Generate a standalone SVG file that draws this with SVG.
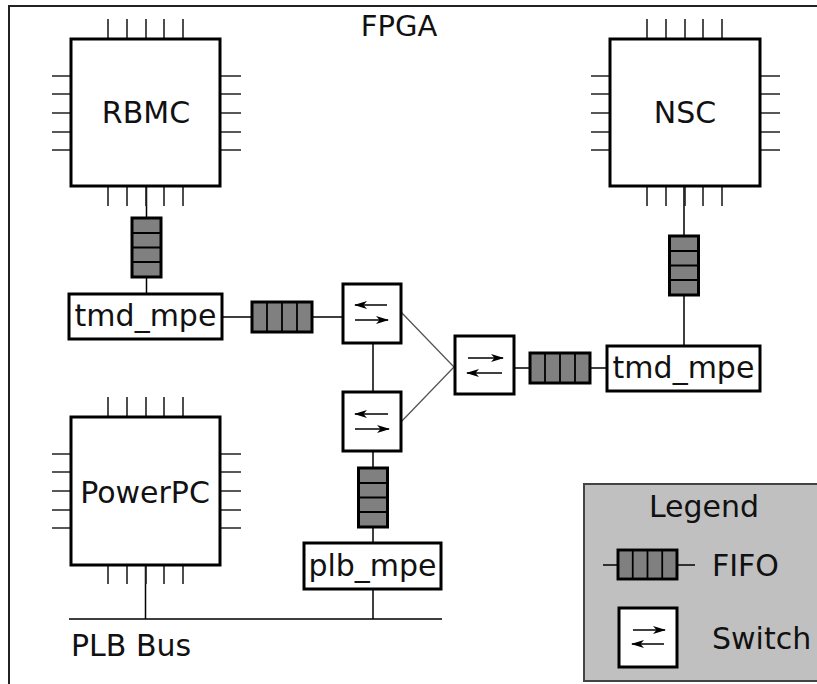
<svg xmlns="http://www.w3.org/2000/svg" xmlns:xlink="http://www.w3.org/1999/xlink" width="817" height="684" viewBox="0 0 817 684">
<style>
text{font-family:"DejaVu Sans","Liberation Sans",sans-serif;font-size:30px;fill:#111}
.box{fill:#fff;stroke:#000;stroke-width:3}
.pin{stroke:#222;stroke-width:1.6;fill:none}
.fifo{fill:#808080;stroke:#000;stroke-width:3}
.div{stroke:#000;stroke-width:1.8}
.ln{stroke:#000;stroke-width:1.5;fill:none}
.diag{stroke:#555;stroke-width:1.3;fill:none}
.arr{stroke:#000;stroke-width:1.5;fill:none;marker-end:url(#ah)}
.frame{stroke:#222;stroke-width:2;fill:none}
</style>
<defs>
<marker id="ah" markerUnits="userSpaceOnUse" markerWidth="14" markerHeight="10" refX="12" refY="5" orient="auto">
<path d="M0,1 L13,5 L0,9 L3.5,5 z" fill="#000"/>
</marker>
<path id="pins" class="pin" d="M37,-20V0M56,-20V0M75,-20V0M93,-20V0M112,-20V0M37,147V167M56,147V167M75,147V167M93,147V167M112,147V167M-19,37H0M-19,55H0M-19,74H0M-19,93H0M-19,111H0M149,37H170M149,55H170M149,74H170M149,93H170M149,111H170"/>
<g id="fifoV"><rect class="fifo" x="0" y="0" width="29" height="59"/><path class="div" d="M0,15H29M0,29.5H29M0,44H29"/></g>
<g id="fifoH"><rect class="fifo" x="0" y="0" width="60" height="30"/><path class="div" d="M15,0V30M30,0V30M45,0V30"/></g>
</defs>
<path class="frame" d="M9,684V6H817"/>
<text x="399" y="36" text-anchor="middle" style="font-size:29px">FPGA</text>

<g id="connectors">
<path class="ln" d="M146.5,186V218M146.5,277V294M222,317H252M312,317H343M373,343V392M373,451V468M373,527V543M373,589V619M69,619H442M145.5,565V619M514,368H530M590,368H607M684,186V236M684,295V346"/>
<path class="diag" d="M401,312L454,367L401,422"/>
</g>

<g id="rbmc" transform="translate(71,39)">
<use xlink:href="#pins"/>
<rect class="box" width="149" height="147"/>
<text x="75" y="84" text-anchor="middle">RBMC</text>
</g>
<g id="nsc" transform="translate(610,39)">
<use xlink:href="#pins"/>
<rect class="box" width="150" height="147"/>
<text x="75" y="84" text-anchor="middle">NSC</text>
</g>
<g id="powerpc" transform="translate(71,417)">
<use xlink:href="#pins"/>
<rect class="box" width="149" height="148"/>
<text x="74" y="86" text-anchor="middle">PowerPC</text>
</g>

<g id="fifo1"><use xlink:href="#fifoV" x="132" y="218"/></g>
<g id="fifo2"><use xlink:href="#fifoH" x="252" y="302"/></g>
<g id="fifo3"><use xlink:href="#fifoV" x="358.5" y="468"/></g>
<g id="fifo4"><use xlink:href="#fifoH" x="530" y="353"/></g>
<g id="fifo5"><use xlink:href="#fifoV" x="669.5" y="236"/></g>

<g id="tmd_mpe_left">
<rect class="box" x="69" y="294" width="153" height="45"/>
<text x="145.5" y="326" text-anchor="middle">tmd_mpe</text>
</g>
<g id="tmd_mpe_right">
<rect class="box" x="607" y="346" width="153" height="45"/>
<text x="683.5" y="378" text-anchor="middle">tmd_mpe</text>
</g>
<g id="plb_mpe">
<rect class="box" x="304" y="543" width="137" height="46"/>
<text x="372.5" y="576" text-anchor="middle">plb_mpe</text>
</g>

<g id="switch1">
<rect class="box" x="343" y="284" width="58" height="59"/>
<path class="arr" d="M387,305H355"/>
<path class="arr" d="M355,320H388"/>
</g>
<g id="switch2">
<rect class="box" x="343" y="392" width="58" height="59"/>
<path class="arr" d="M388,414H355"/>
<path class="arr" d="M355,429H389"/>
</g>
<g id="switch3">
<rect class="box" x="455" y="336" width="59" height="58"/>
<path class="arr" d="M468,358H503"/>
<path class="arr" d="M502,373H467"/>
</g>

<g id="plb_bus_label"><text x="71" y="656">PLB Bus</text></g>

<g id="legend">
<rect x="584" y="484" width="240" height="197" fill="#c0c0c0" stroke="#444" stroke-width="2"/>
<text x="704" y="517" text-anchor="middle">Legend</text>
<path class="ln" d="M603,565H618M677,565H695"/>
<use xlink:href="#fifoH" x="618" y="550" transform="translate(618,550) scale(0.983,0.967) translate(-618,-550)"/>
<text x="712" y="576">FIFO</text>
<rect class="box" x="619" y="608" width="58" height="59"/>
<path class="arr" d="M633,630H665"/>
<path class="arr" d="M664,644H632"/>
<text x="712" y="649">Switch</text>
</g>
</svg>
